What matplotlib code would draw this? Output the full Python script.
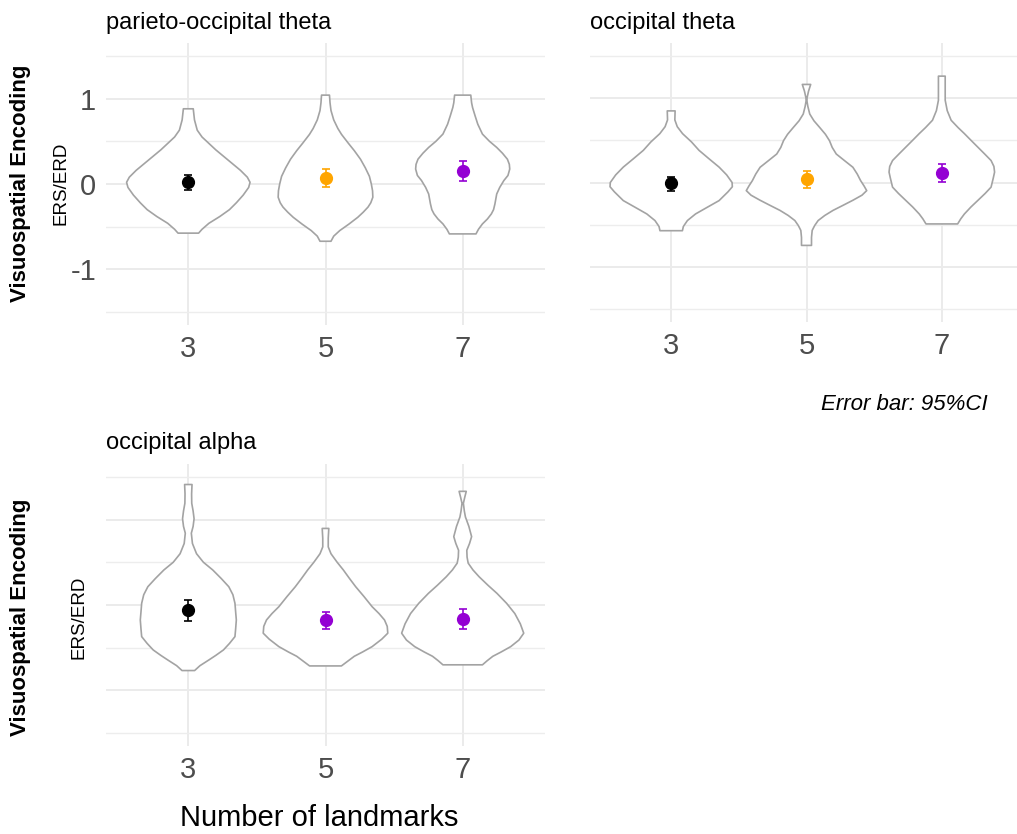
import matplotlib
matplotlib.use("Agg")
import matplotlib.pyplot as plt
import numpy as np

plt.rcParams['font.family'] = ['Liberation Sans', 'DejaVu Sans']
plt.rcParams['axes.unicode_minus'] = False

landmarks = ['3', '5', '7']
panel_titles = ['parieto-occipital theta', 'occipital theta', 'occipital alpha']

# Violin outlines per landmark condition: (ERS/ERD value, half-width) pairs, top to bottom
po_theta_violins = [
    [(0.88, .036), (0.75, .045), (0.63, .065), (0.55, .10), (0.49, .14), (0.40, .20),
     (0.32, .26), (0.24, .32), (0.16, .38), (0.08, .43), (0.02, .45), (-0.04, .44),
     (-0.13, .40), (-0.22, .35), (-0.30, .30), (-0.38, .23), (-0.46, .15), (-0.53, .10),
     (-0.575, .075)],
    [(1.04, .029), (0.95, .033), (0.86, .04), (0.75, .06), (0.65, .09), (0.58, .117),
     (0.48, .165), (0.39, .21), (0.29, .255), (0.19, .29), (0.09, .32), (0.0, .334),
     (-0.08, .343), (-0.155, .345), (-0.22, .33), (-0.27, .31), (-0.33, .275),
     (-0.39, .235), (-0.47, .17), (-0.545, .104), (-0.61, .06), (-0.67, .04)],
    [(1.04, .059), (0.95, .065), (0.895, .072), (0.80, .09), (0.70, .11), (0.584, .144),
     (0.50, .195), (0.428, .248), (0.36, .29), (0.29, .326), (0.23, .34), (0.175, .343),
     (0.10, .33), (0.04, .30), (-0.04, .27), (-0.117, .248), (-0.233, .235), (-0.30, .225),
     (-0.35, .209), (-0.41, .18), (-0.467, .144), (-0.53, .115), (-0.584, .097)],
]
o_theta_violins = [
    [(0.847, .029), (0.74, .027), (0.66, .045), (0.578, .084), (0.48, .15), (0.38, .206),
     (0.28, .28), (0.182, .354), (0.09, .41), (0.0, .45), (-0.05, .452), (-0.11, .42),
     (-0.214, .354), (-0.29, .27), (-0.372, .18), (-0.45, .12), (-0.52, .09), (-0.57, .083)],
    [(1.16, .031), (1.08, .015), (1.0, .004), (0.965, .003), (0.90, .010), (0.81, .024),
     (0.73, .055), (0.65, .098), (0.57, .14), (0.494, .17), (0.415, .19), (0.337, .22),
     (0.26, .28), (0.18, .343), (0.10, .375), (0.022, .40), (-0.04, .425), (-0.096, .445),
     (-0.15, .41), (-0.21, .343), (-0.27, .27), (-0.33, .196), (-0.39, .135), (-0.45, .086),
     (-0.51, .06), (-0.567, .042), (-0.65, .037), (-0.744, .037)],
    [(1.258, .025), (1.10, .025), (0.973, .025), (0.85, .04), (0.736, .069), (0.65, .12),
     (0.578, .167), (0.50, .215), (0.42, .265), (0.34, .315), (0.26, .364), (0.19, .385),
     (0.123, .39), (0.05, .38), (-0.055, .364), (-0.13, .32), (-0.214, .265), (-0.29, .215),
     (-0.372, .167), (-0.43, .14), (-0.49, .117)],
]
o_alpha_violins = [
    [(1.41, .027), (1.30, .024), (1.19, .025), (1.10, .035), (1.01, .042), (0.92, .035),
     (0.84, .022), (0.72, .03), (0.60, .06), (0.50, .11), (0.41, .178), (0.31, .24),
     (0.214, .295), (0.12, .325), (0.02, .34), (-0.08, .345), (-0.175, .35), (-0.28, .345),
     (-0.37, .34), (-0.45, .30), (-0.526, .256), (-0.59, .20), (-0.643, .15), (-0.71, .085),
     (-0.767, .046)],
    [(0.896, .024), (0.78, .02), (0.68, .02), (0.60, .04), (0.50, .085), (0.41, .13),
     (0.31, .175), (0.214, .22), (0.10, .28), (-0.02, .34), (-0.10, .39), (-0.175, .43),
     (-0.25, .45), (-0.33, .454), (-0.40, .41), (-0.487, .34), (-0.55, .27), (-0.60, .21),
     (-0.66, .16), (-0.713, .116)],
    [(1.33, .026), (1.26, .015), (1.19, .005), (1.10, .012), (1.03, .02), (0.92, .045),
     (0.80, .065), (0.72, .05), (0.64, .03), (0.56, .032), (0.49, .04), (0.41, .075),
     (0.33, .12), (0.23, .185), (0.136, .25), (0.02, .32), (-0.10, .38), (-0.22, .42),
     (-0.33, .445), (-0.41, .41), (-0.487, .35), (-0.55, .28), (-0.60, .22), (-0.65, .18),
     (-0.70, .144)],
]

# Condition means with 95% confidence intervals
po_theta_mean = [0.02, 0.075, 0.15]
po_theta_ci_low = [-0.075, -0.03, 0.03]
po_theta_ci_high = [0.105, 0.18, 0.27]

o_theta_mean = [-0.01, 0.04, 0.115]
o_theta_ci_low = [-0.10, -0.06, 0.005]
o_theta_ci_high = [0.07, 0.135, 0.22]

o_alpha_mean = [-0.06, -0.18, -0.167]
o_alpha_ci_low = [-0.19, -0.28, -0.285]
o_alpha_ci_high = [0.06, -0.08, -0.05]

theta_colors = ['black', '#FFA500', '#9400D3']
alpha_colors = ['black', '#9400D3', '#9400D3']

W, H = 1017, 834
fig = plt.figure(figsize=(W / 100, H / 100), dpi=100)


def px_axes(x0, y0, x1, y1):
    return fig.add_axes([x0 / W, 1 - y1 / H, (x1 - x0) / W, (y1 - y0) / H])


def draw_panel(ax, violins, mean, lo, hi, colors, show_y):
    ax.set_xlim(0.4, 3.6)
    ax.set_ylim(-1.65, 1.65)
    pos = np.arange(1, len(landmarks) + 1)
    for x, prof in zip(pos, violins):
        ys = np.array([p[0] for p in prof])
        ws = np.array([p[1] for p in prof])
        xs = np.concatenate([x + ws, (x - ws)[::-1]])
        yy = np.concatenate([ys, ys[::-1]])
        ax.fill(xs, yy, facecolor='white', edgecolor='#A3A3A3', lw=1.2,
                joinstyle='round', zorder=2)
    for x, m, l, h, c in zip(pos, mean, lo, hi, colors):
        ax.errorbar(x, m, yerr=[[m - l], [h - m]], fmt='o', color=c, ms=8.5,
                    capsize=3.2, elinewidth=1.2, capthick=1.2, zorder=3)
    ax.set_xticks(pos, landmarks)
    ax.set_yticks([-1, 0, 1])
    ax.set_yticks([-1.5, -0.5, 0.5, 1.5], minor=True)
    ax.grid(which='major', color='#EBEBEB', lw=1.4, zorder=0)
    ax.grid(which='minor', axis='y', color='#EDEDED', lw=1.0, zorder=0)
    ax.set_axisbelow(True)
    for s in ax.spines.values():
        s.set_visible(False)
    ax.tick_params(which='both', length=0, labelsize=21, labelcolor='#4D4D4D')
    ax.tick_params(axis='x', pad=7)
    ax.tick_params(axis='y', pad=7, labelleft=show_y)


ax1 = px_axes(106, 43, 545, 325)
draw_panel(ax1, po_theta_violins, po_theta_mean, po_theta_ci_low, po_theta_ci_high,
           theta_colors, True)
ax2 = px_axes(590, 43, 1023, 322)
draw_panel(ax2, o_theta_violins, o_theta_mean, o_theta_ci_low, o_theta_ci_high,
           theta_colors, False)
ax3 = px_axes(106, 464, 545, 746)
draw_panel(ax3, o_alpha_violins, o_alpha_mean, o_alpha_ci_low, o_alpha_ci_high,
           alpha_colors, False)

# Panel titles
fig.text(106 / W, 1 - 29 / H, panel_titles[0], fontsize=17, va='baseline', ha='left')
fig.text(590 / W, 1 - 29 / H, panel_titles[1], fontsize=17, va='baseline', ha='left')
fig.text(106 / W, 1 - 449 / H, panel_titles[2], fontsize=17, va='baseline', ha='left')

# Y axis titles
for yc, xe in [(183, 61), (617, 79)]:
    fig.text(21 / W, 1 - yc / H, 'Visuospatial Encoding', fontsize=16, fontweight='bold',
             rotation=90, ha='center', va='center')
    fig.text(xe / W, 1 - yc / H, 'ERS/ERD', fontsize=13.5, rotation=90,
             ha='center', va='center')

fig.text(319 / W, 1 - 818 / H, 'Number of landmarks', fontsize=21, ha='center', va='center')
fig.text(988 / W, 1 - 410 / H, 'Error bar: 95%CI', fontsize=16, style='italic',
         ha='right', va='baseline')

fig.savefig('out.png', dpi=100, facecolor='white')
